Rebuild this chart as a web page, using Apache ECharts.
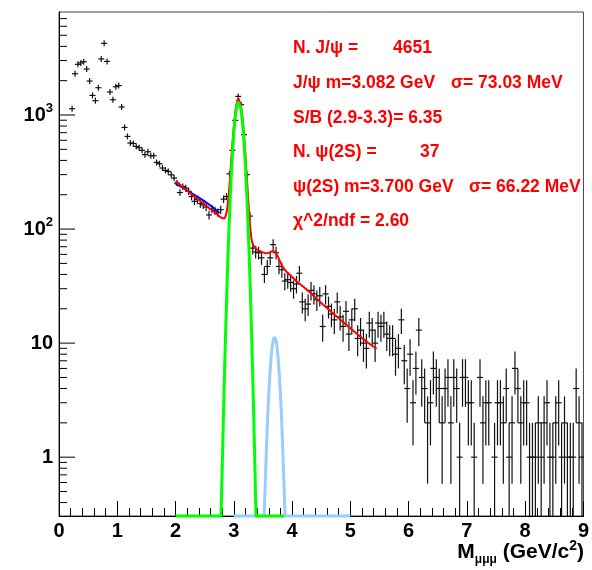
<!DOCTYPE html>
<html><head><meta charset="utf-8">
<script src="https://cdn.jsdelivr.net/npm/echarts@6/dist/echarts.min.js"></script>
<style>html,body{margin:0;padding:0;background:#fff}#c{width:592px;height:570px}</style>
</head><body><div id="c"></div>
<script>
// ---- histogram binning ----
const BIN_WIDTH = 0.05;
const FIRST_CENTER = 0.025;
// ---- counts per bin (0.025 ... 8.975), null = empty bin ----
const counts = [
  null,null,null,null,1135,2300,2780,2860,2935,2530,
  1985,1485,1335,1735,3100,4250,2950,1590,1360,1770,
  1810,1175,778,649,568,563,530,517,490,449,
  476,440,440,384,374,343,327,320,299,280,
  253,209,236,229,214,193,175,182,167,163,
  156,133,150,145,140,148,183,193,305,490,
  897,1456,1231,672,300,130,68,63,62,56,
  40,47,56,73,62,47,44,35,36,34,
  30,33,41,23,20,22,29,27,24,26,
  14,27,21,18,16,23,17,14,19,12,
  16,20,11,13,10,9,15,13,10,15,
  14,15,12,11,11,8,9,16,7,4,
  8,3,6,13,5,4,2,3,6,5,
  4,2,4,5,2,5,4,1,5,5,
  3,3,1,null,5,2,3,3,null,1,
  3,3,2,4,1,2,6,4,2,3,
  3,1,1,1,2,1,2,3,1,1,
  2,3,1,2,1,1,1,4,2,1
];
// ---- fitted curves ----
const fitTotal = [[2.00,262],[2.10,239],[2.20,217],[2.30,197],[2.40,180],[2.50,164],[2.60,149],[2.70,136],[2.76,128],[2.80,125],[2.82,123],[2.84,124],[2.86,130],[2.88,143],[2.90,171],[2.92,222],[2.94,305],[2.96,429],[2.98,595],[3.00,795],[3.02,1007],[3.04,1201],[3.06,1339],[3.08,1396],[3.10,1355],[3.12,1227],[3.14,1038],[3.16,824],[3.18,615],[3.20,437],[3.22,302],[3.24,207],[3.26,145],[3.28,105],[3.30,84],[3.32,75],[3.34,71],[3.36,68.5],[3.40,66],[3.45,64],[3.50,62.5],[3.54,61.5],[3.58,61.5],[3.62,62.5],[3.66,64],[3.70,63.5],[3.74,59.5],[3.78,54],[3.82,48.5],[3.86,45],[3.90,42.5],[4.00,38],[4.10,34],[4.20,31],[4.30,28],[4.40,25],[4.50,22.5],[4.60,20.3],[4.70,18.3],[4.80,16.5],[4.90,14.9],[5.00,13.5],[5.10,12.2],[5.20,11.1],[5.30,10.1],[5.40,9.3],[5.45,8.9]];
const fitBackground = [[2.00,250],[2.10,234],[2.20,218],[2.30,203],[2.40,189],[2.50,175],[2.60,161],[2.70,146],[2.75,138]];
const gausJpsi = [[2.00,0.305],[2.78,0.305],[2.80,0.75],[2.82,2.1],[2.84,5.4],[2.86,12.8],[2.88,28],[2.90,58],[2.92,111],[2.94,196],[2.96,322],[2.98,490],[3.00,692],[3.02,906],[3.04,1102],[3.06,1242],[3.08,1300],[3.10,1261],[3.12,1135],[3.14,948],[3.16,735],[3.18,528],[3.20,352],[3.22,218],[3.24,125],[3.26,66.5],[3.28,33],[3.30,15],[3.32,6.4],[3.34,2.5],[3.36,0.92],[3.38,0.305],[3.86,0.305]];
const gausPsi2S = [[3.00,0.305],[3.52,0.305],[3.54,0.6],[3.56,1.19],[3.58,2.16],[3.60,3.59],[3.62,5.42],[3.64,7.47],[3.66,9.40],[3.68,10.8],[3.70,11.3],[3.72,10.8],[3.74,9.40],[3.76,7.47],[3.78,5.42],[3.80,3.59],[3.82,2.16],[3.84,1.19],[3.86,0.6],[3.88,0.305],[5.00,0.305]];
// ---- axes ----
const X_MIN = 0, X_MAX = 9;
const Y_MIN = 0.305, Y_MAX = 8000;
const Y_MAJOR = [1, 10, 100, 1000];
const Y_MINOR_MULT = [2,3,4,5,6,7,8,9];
const Y_MINOR_DECADES = [0.1, 1, 10, 100, 1000];
// ---- annotation texts ----
const annotationLines = [
  ['N. J/\u03c8 =', '4651'],
  ['J/\u03c8 m=3.082 GeV', '\u03c3= 73.03 MeV'],
  ['S/B (2.9-3.3)= 6.35'],
  ['N. \u03c8(2S) =', '37'],
  ['\u03c8(2S) m=3.700 GeV', '\u03c3= 66.22 MeV'],
  ['\u03c7^2/ndf = 2.60']
];

const yMinor = [];
Y_MINOR_DECADES.forEach(d => Y_MINOR_MULT.forEach(m => { const v = +(m*d).toPrecision(6); if (v > Y_MIN && v < Y_MAX) yMinor.push([X_MIN, v]); }));
const yMajor = Y_MAJOR.map(v => [X_MIN, v]);

const points = [];
counts.forEach((n, i) => {
  if (n == null) return;
  const x = +(FIRST_CENTER + BIN_WIDTH * i).toFixed(3);
  const e = Math.sqrt(n);
  points.push([x, n, Math.max(n - e, Y_MIN), n + e]);
});

const FONT = 'Liberation Sans';
const chart = echarts.init(document.getElementById('c'), null, {renderer: 'canvas'});

function renderPoint(params, api) {
  const x = api.value(0), n = api.value(1), lo = api.value(2), hi = api.value(3);
  const c = api.coord([x, n]);
  const cl = api.coord([x, lo]);
  const ch = api.coord([x, hi]);
  const xl = api.coord([x - BIN_WIDTH / 2, n])[0];
  const xr = api.coord([x + BIN_WIDTH / 2, n])[0];
  const m = 3;
  const st = {stroke: '#111', lineWidth: 1.2};
  return {type: 'group', children: [
    {type: 'line', shape: {x1: c[0], y1: Math.min(ch[1], c[1] - m), x2: c[0], y2: Math.max(cl[1], c[1] + m)}, style: st},
    {type: 'line', shape: {x1: Math.min(xl, c[0] - m), y1: c[1], x2: Math.max(xr, c[0] + m), y2: c[1]}, style: st}
  ]};
}
function tickRenderer(len) {
  return function (params, api) {
    const p = api.coord([api.value(0), api.value(1)]);
    return {type: 'line', shape: {x1: p[0], y1: p[1], x2: p[0] + len, y2: p[1]}, style: {stroke: '#000', lineWidth: 1}};
  };
}

const lineY = [49, 84, 119, 153, 188, 222];
const secondX = [393, 451, null, 420, 469, null];
const graphics = [];
annotationLines.forEach((parts, i) => {
  graphics.push({type: 'text', left: 293, top: lineY[i] - 10, style: {text: parts[0], fill: '#ff0000', font: 'bold 17.5px "' + FONT + '"'}});
  if (parts[1]) graphics.push({type: 'text', left: secondX[i], top: lineY[i] - 10, style: {text: parts[1], fill: '#ff0000', font: 'bold 17.5px "' + FONT + '"'}});
});
graphics.push({type: 'text', right: 8, top: 539, style: {
  text: '{m|M}{s|\u03bc\u03bc\u03bc}{m| (GeV/c}{p|2}{m|)}',
  rich: {
    m: {fontSize: 21, fontWeight: 'bold', fontFamily: FONT, fill: '#000', lineHeight: 27},
    s: {fontSize: 12, fontWeight: 'bold', fontFamily: FONT, fill: '#000', verticalAlign: 'bottom'},
    p: {fontSize: 14, fontWeight: 'bold', fontFamily: FONT, fill: '#000', verticalAlign: 'top'}
  }
}});

chart.setOption({
  animation: false,
  backgroundColor: '#fff',
  textStyle: {fontFamily: FONT},
  grid: {left: 59, right: 7, top: 12, bottom: 54, show: true, borderColor: '#444', borderWidth: 1, containLabel: false},
  xAxis: {
    type: 'value', min: X_MIN, max: X_MAX, interval: 1,
    axisLine: {show: true, lineStyle: {color: '#000', width: 1}},
    axisTick: {show: true, inside: true, length: 15, lineStyle: {color: '#000'}},
    minorTick: {show: true, splitNumber: 5, length: 8, lineStyle: {color: '#000'}},
    splitLine: {show: false}, minorSplitLine: {show: false},
    axisLabel: {margin: 5, fontSize: 20, fontWeight: 'bold', color: '#000', fontFamily: FONT}
  },
  yAxis: {
    type: 'log', logBase: 10, min: Y_MIN, max: Y_MAX,
    axisLine: {show: true, lineStyle: {color: '#000', width: 1}},
    axisTick: {show: false}, minorTick: {show: false},
    splitLine: {show: false},
    axisLabel: {
      margin: 6, color: '#000',
      formatter: function (v) {
        const l = Math.log10(v), e = Math.round(l);
        if (Math.abs(l - e) > 1e-6 || e < 0) return '';
        if (e === 0) return '{a|1}';
        if (e === 1) return '{a|10}';
        return '{a|10}{b|' + e + '}';
      },
      rich: {
        a: {fontSize: 20, fontWeight: 'bold', fontFamily: FONT, color: '#000', lineHeight: 26},
        b: {fontSize: 13, fontWeight: 'bold', fontFamily: FONT, color: '#000', verticalAlign: 'top'}
      }
    }
  },
  graphic: graphics,
  series: [
    {type: 'custom', name: 'data', data: points, encode: {x: 0, y: 1}, renderItem: renderPoint, clip: true, z: 2, silent: true},
    {type: 'line', name: 'bkg', data: fitBackground, showSymbol: false, clip: true, lineStyle: {color: '#0000ff', width: 2}, z: 3, silent: true},
    {type: 'line', name: 'total', data: fitTotal, showSymbol: false, clip: true, lineStyle: {color: '#ff0000', width: 2}, z: 4, silent: true},
    {type: 'line', name: 'psi2s', data: gausPsi2S, showSymbol: false, clip: false, lineStyle: {color: '#99ccff', width: 3}, z: 5, silent: true},
    {type: 'line', name: 'jpsi', data: gausJpsi, showSymbol: false, clip: false, lineStyle: {color: '#00ff00', width: 3}, z: 6, silent: true},
    {type: 'custom', name: 'ymajor', data: yMajor, encode: {x: 0, y: 1}, renderItem: tickRenderer(16), clip: false, z: 7, silent: true},
    {type: 'custom', name: 'yminor', data: yMinor, encode: {x: 0, y: 1}, renderItem: tickRenderer(8), clip: false, z: 7, silent: true}
  ]
});
</script></body></html>
